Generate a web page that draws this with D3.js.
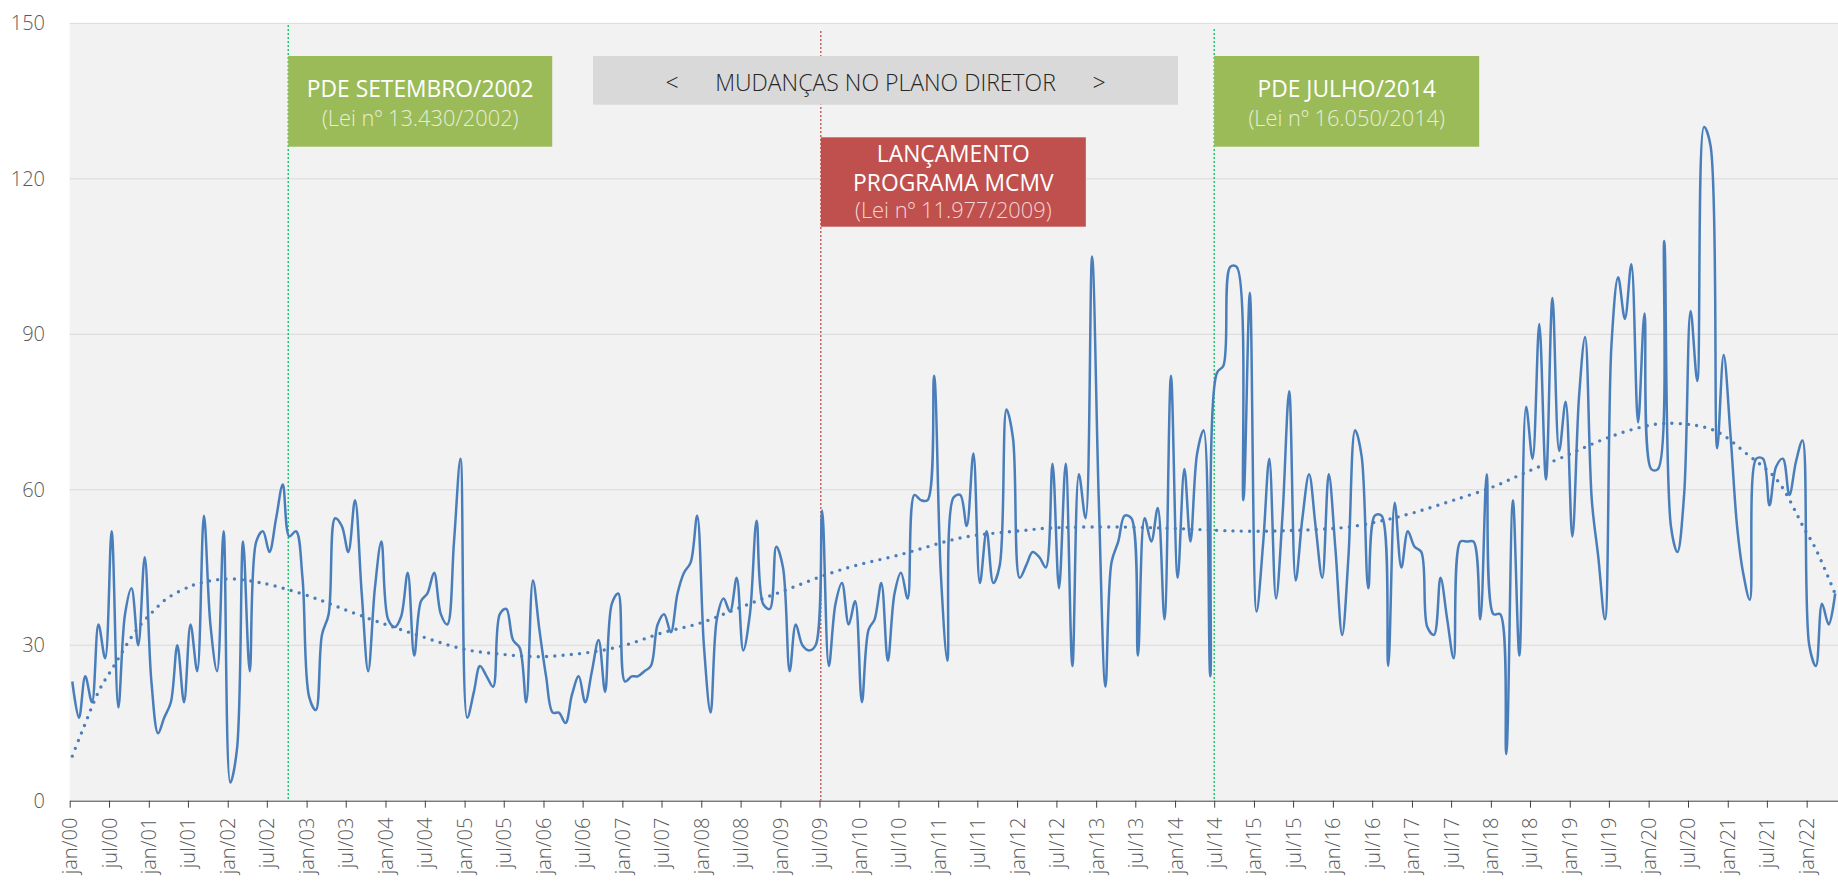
<!DOCTYPE html>
<html>
<head>
<meta charset="utf-8">
<script src="https://cdn.jsdelivr.net/npm/d3@7"></script>
<style>
body { margin: 0; background: #fff; }
svg text { font-family: "Open Sans", "Segoe UI", sans-serif; }
</style>
</head>
<body>
<div id="chart"></div>
<script>
// monthly counts, jan/2000 .. mai/2022 (one row per year)
var counts = [
    23, 16, 24, 19, 34, 27.5, 52, 18, 36, 41, 30, 47,          // 2000
    23, 13, 16, 19, 30, 19, 34, 25, 55, 34, 25, 52,            // 2001
    3.5, 10, 50, 25, 50, 52, 48, 54.5, 61, 51, 52, 43,         // 2002
    20, 17.5, 32, 36, 54.5, 53, 48, 58, 40, 25, 41, 50,        // 2003
    35, 33.5, 35.5, 44, 28, 38.5, 40, 44, 36, 34, 50, 66,      // 2004
    16, 21, 26, 24, 22, 36, 37, 31, 29.5, 19, 42.5, 33,        // 2005
    24, 17, 17, 15, 20.5, 24, 19, 25, 31, 21, 38, 40,          // 2006
    23, 24, 24, 25, 26, 34, 36, 32.5, 40, 44, 46, 55,          // 2007
    30, 17, 35, 39, 36.5, 43, 29, 36, 54, 38, 37, 49,          // 2008
    45, 25, 34, 30, 29, 30, 56, 26, 38, 42, 34, 38.5,          // 2009
    19, 33, 35, 42, 27, 40, 44, 39, 59, 58, 58, 82,            // 2010
    44, 27, 58.5, 59, 53, 67, 42, 52, 42, 45.5, 75.5, 70,      // 2011
    43, 45.5, 48, 47, 45, 65, 41, 65, 26, 63, 54.5, 105,       // 2012
    58, 22, 46, 50, 55, 54.5, 28, 54.5, 50, 56.5, 35, 82,      // 2013
    43, 64, 50, 67, 71.5, 24, 82.5, 84, 103, 103, 58, 98,      // 2014
    36.5, 50, 66, 39, 55, 79, 42.5, 54.5, 63, 53, 43, 63,      // 2015
    48.5, 32, 47, 71.5, 66.5, 41, 55, 55, 26, 57.5, 45, 52,    // 2016
    49, 48, 33.5, 32, 43, 35, 27.5, 50, 50, 50, 35, 63,        // 2017
    36, 36, 9, 58, 28, 76, 66, 92, 62, 97, 67.5, 77,           // 2018
    51, 78, 89.5, 58, 47, 35, 88, 101, 93, 103.5, 73, 94,      // 2019
    64, 64, 108, 53, 48, 59, 94.5, 81, 130, 126.5, 68, 86,     // 2020
    71, 53, 44, 38.8, 66, 66, 57, 64.5, 66, 59, 65.5, 69.5,    // 2021
    30, 26, 38, 34, 40                                         // 2022
];

// trend line (dotted): month index since jan/2000 -> value
var trendMonth = [0, 1, 2, 4, 6, 8, 10, 12, 14, 16, 18, 20, 24, 28, 30, 35, 40, 45, 50, 55, 60,
                  65, 70, 75, 80, 85, 90, 95, 100, 105, 110, 115, 120, 125, 130, 135, 140, 145,
                  150, 160, 170, 180, 190, 195, 200, 205, 210, 216, 221, 226, 231, 236, 241,
                  245, 248, 251, 254, 257, 260, 263, 265, 268];
var trendValue = [8.6, 11.9, 14.9, 21, 25.3, 29.6, 33.4, 36.2, 38.6, 40.2, 41.4, 42.2, 42.8, 42.2,
                  41.7, 39.9, 37.6, 35.2, 33, 30.9, 29.1, 28.3, 27.8, 28.1, 28.9, 30.4, 32.5,
                  34.1, 36.5, 39, 41.4, 43.8, 45.7, 47.2, 49, 50.7, 51.6, 52.2, 52.7, 52.8, 52.4,
                  52, 52.4, 53, 54.3, 56, 58, 60.6, 63.4, 66, 68.8, 71.2, 72.7, 72.7, 72.1, 70.5,
                  67.5, 64.5, 60.3, 53.1, 48.5, 39.9];

var yTicks = [0, 30, 60, 90, 120, 150];
var monthAbbr = ["jan", "fev", "mar", "abr", "mai", "jun", "jul", "ago", "set", "out", "nov", "dez"];

// event markers
var eventDates = ["2002-10-08", "2009-07-07", "2014-07-01"];
var eventTitles = [["PDE SETEMBRO/2002"], ["LANÇAMENTO", "PROGRAMA MCMV"], ["PDE JULHO/2014"]];
var eventLaws = ["(Lei nº 13.430/2002)", "(Lei nº 11.977/2009)", "(Lei nº 16.050/2014)"];
var headerText = "MUDANÇAS NO PLANO DIRETOR";

var width = 1838, height = 884;
var margin = { top: 23.4, right: 0, bottom: 83.3, left: 69.7 };

var svg = d3.select("#chart").append("svg")
    .attr("width", width)
    .attr("height", height);

var x = d3.scaleTime()
    .domain([new Date(2000, 0, 1), new Date(2022, 4, 26)])
    .range([margin.left, width - margin.right]);

var y = d3.scaleLinear()
    .domain([0, 150])
    .range([height - margin.bottom, margin.top]);

var monthDate = function (i) { return new Date(2000, i, 13); };

// plot area
svg.append("rect")
    .attr("x", margin.left)
    .attr("y", y(150))
    .attr("width", width - margin.left)
    .attr("height", y(0) - y(150))
    .attr("fill", "#f2f2f2");

svg.append("clipPath").attr("id", "plot")
  .append("rect")
    .attr("x", margin.left)
    .attr("y", 0)
    .attr("width", width - margin.left)
    .attr("height", y(0));

svg.selectAll(".grid")
    .data(yTicks.slice(1))
  .enter().append("line")
    .attr("class", "grid")
    .attr("x1", margin.left)
    .attr("x2", width)
    .attr("y1", function (d) { return y(d); })
    .attr("y2", function (d) { return y(d); })
    .attr("stroke", "#d9d9d9")
    .attr("stroke-width", 1);

svg.selectAll(".ylab")
    .data(yTicks)
  .enter().append("text")
    .attr("class", "ylab")
    .attr("x", 45)
    .attr("y", function (d) { return y(d); })
    .attr("dy", "0.35em")
    .attr("text-anchor", "end")
    .attr("font-size", 20)
    .attr("font-weight", 300)
    .attr("fill", "#595959")
    .text(function (d) { return d; });

// x axis
var xTicks = d3.timeMonth.every(6).range(new Date(2000, 0, 1), new Date(2022, 1, 1));
var xAxis = svg.append("g")
    .attr("transform", "translate(0," + y(0) + ")")
    .call(d3.axisBottom(x)
        .tickValues(xTicks)
        .tickSize(7)
        .tickSizeOuter(0)
        .tickFormat(function (d) { return monthAbbr[d.getMonth()] + "/" + d3.timeFormat("%y")(d); }));

xAxis.select(".domain").attr("stroke", "#404040");
xAxis.selectAll(".tick line").attr("stroke", "#404040");
xAxis.selectAll(".tick text")
    .attr("transform", "rotate(-90)")
    .attr("text-anchor", "end")
    .attr("x", -17)
    .attr("y", 0)
    .attr("dy", "0.35em")
    .attr("font-size", 20)
    .attr("font-weight", 300)
    .attr("fill", "#595959");

// event lines
var eventColor = ["#00c060", "#c0504d", "#00c060"];
var eventTop = [25, 31, 29];
var parseDay = d3.timeParse("%Y-%m-%d");

svg.selectAll(".event")
    .data(eventDates)
  .enter().append("line")
    .attr("class", "event")
    .attr("x1", function (d) { return x(parseDay(d)); })
    .attr("x2", function (d) { return x(parseDay(d)); })
    .attr("y1", function (d, i) { return eventTop[i]; })
    .attr("y2", y(0))
    .attr("stroke", function (d, i) { return eventColor[i]; })
    .attr("stroke-width", 1.3)
    .attr("stroke-dasharray", "2 2");

// header box
svg.append("rect")
    .attr("x", 593)
    .attr("y", 56)
    .attr("width", 585)
    .attr("height", 48.7)
    .attr("fill", "#d9d9d9");

[["<", 672], [headerText, 885.5], [">", 1099]].forEach(function (t) {
    svg.append("text")
        .attr("x", t[1])
        .attr("y", 90.5)
        .attr("text-anchor", "middle")
        .attr("font-size", 23)
        .attr("font-weight", 300)
        .attr("fill", "#262626")
        .text(t[0]);
});

// event boxes
var boxFill = ["#9bbb59", "#c0504d", "#9bbb59"];
var boxTop = [56, 137.3, 56];
var boxHeight = [90.7, 89.4, 90.7];
var boxWidth = [264, 265, 265];
var lawColor = ["#e6eed6", "#f2d6d5", "#e6eed6"];

eventDates.forEach(function (d, i) {
    var bx = x(parseDay(d));
    var g = svg.append("g").attr("transform", "translate(" + bx + "," + boxTop[i] + ")");
    g.append("rect")
        .attr("width", boxWidth[i])
        .attr("height", boxHeight[i])
        .attr("fill", boxFill[i]);
    var lines = eventTitles[i];
    var base = lines.length === 1 ? [41] : [24.5, 54];
    lines.forEach(function (t, j) {
        g.append("text")
            .attr("x", boxWidth[i] / 2)
            .attr("y", base[j])
            .attr("text-anchor", "middle")
            .attr("font-size", 22.8)
            .attr("font-weight", 400)
            .attr("fill", "#ffffff")
            .text(t);
    });
    g.append("text")
        .attr("x", boxWidth[i] / 2)
        .attr("y", lines.length === 1 ? 70 : 81)
        .attr("text-anchor", "middle")
        .attr("font-size", 21.8)
        .attr("font-weight", 300)
        .attr("fill", lawColor[i])
        .text(eventLaws[i]);
});

// data line
var line = d3.line()
    .curve(d3.curveCatmullRom)
    .x(function (d, i) { return x(monthDate(i)); })
    .y(function (d) { return y(d); });

svg.append("path")
    .datum(counts)
    .attr("clip-path", "url(#plot)")
    .attr("d", line)
    .attr("fill", "none")
    .attr("stroke", "#4a7ebb")
    .attr("stroke-width", 2.5)
    .attr("stroke-linejoin", "round");

// trend
var trend = d3.line()
    .curve(d3.curveNatural)
    .x(function (d, i) { return x(monthDate(trendMonth[i])); })
    .y(function (d) { return y(d); });

svg.append("path")
    .datum(trendValue)
    .attr("d", trend)
    .attr("fill", "none")
    .attr("stroke", "#4a7ebb")
    .attr("stroke-width", 3.4)
    .attr("stroke-linecap", "round")
    .attr("stroke-dasharray", "0 8.3");
</script>
</body>
</html>
